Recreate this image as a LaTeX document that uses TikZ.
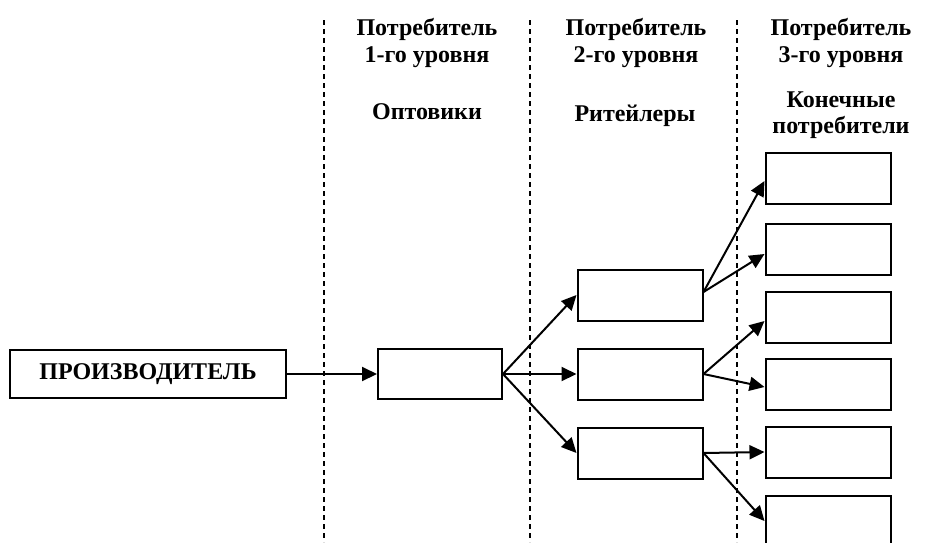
\documentclass[tikz,border=0pt]{standalone}
\usepackage{fontspec}
\setmainfont{Liberation Serif}
\usepackage{tikz}
\usetikzlibrary{positioning, arrows.meta}

\begin{document}
\begin{tikzpicture}[x=1pt, y=-1pt,
	box/.style={draw, line width=2pt, rectangle, inner sep=0pt, minimum width=125pt, minimum height=51pt},
	head/.style={font=\fontsize{24}{27}\selectfont\bfseries, align=center, anchor=base},
	arr/.style={line width=2pt, -{Triangle[length=15pt, width=14pt]}},
	sep/.style={line width=1.5pt, dash pattern=on 5pt off 4pt}]
	\useasboundingbox (0, 0) rectangle (939, 542);
	\clip (0, 0) rectangle (939, 542);

		\draw[sep] (324, 20) -- (324, 542);
		\draw[sep] (530, 20) -- (530, 542);
		\draw[sep] (737, 20) -- (737, 542);

		\node[head] (H1) at (427, 62) {Потребитель\\1-го уровня};
		\node[head] (H2) at (636, 62) {Потребитель\\2-го уровня};
		\node[head] (H3) at (841, 62) {Потребитель\\3-го уровня};
		\node[head] (T1) at (427, 119) {Оптовики};
		\node[head] (T2) at (635, 121) {Ритейлеры};
		\node[head, font=\fontsize{24}{26}\selectfont\bfseries] (T3) at (841, 133) {Конечные\\потребители};

		\node[box, minimum width=276pt, minimum height=48pt, font=\fontsize{24}{26}\selectfont\bfseries] (P) at (148, 374) {ПРОИЗВОДИТЕЛЬ};
		\node[box, minimum width=124pt, minimum height=50pt] (W) at (440, 374) {};

		\node[box] (R1) at (640, 295) {};
		\node[box] (R2) at (640, 374) {};
		\node[box] (R3) at (640, 453) {};

		\node[box] (C1) at (828, 178) {};
		\node[box] (C2) at (828, 249) {};
		\node[box] (C3) at (828, 317) {};
		\node[box] (C4) at (828, 384) {};
		\node[box] (C5) at (828, 452) {};
		\node[box] (C6) at (828, 521) {};

		\draw[arr] (P.east) -- (W.west);
		\draw[arr] (W.east) -- (R1.west);
		\draw[arr] (W.east) -- (R2.west);
		\draw[arr] (W.east) -- (R3.west);

		\draw[arr] ([yshift=3pt]R1.east) -- ([yshift=-3pt]C1.west);
		\draw[arr] ([yshift=3pt]R1.east) -- ([yshift=-5pt]C2.west);
		\draw[arr] (R2.east) -- ([yshift=-4pt]C3.west);
		\draw[arr] (R2.east) -- ([yshift=-3pt]C4.west);
		\draw[arr] (R3.east) -- (C5.west);
		\draw[arr] (R3.east) -- (C6.west);
\end{tikzpicture}
\end{document}
